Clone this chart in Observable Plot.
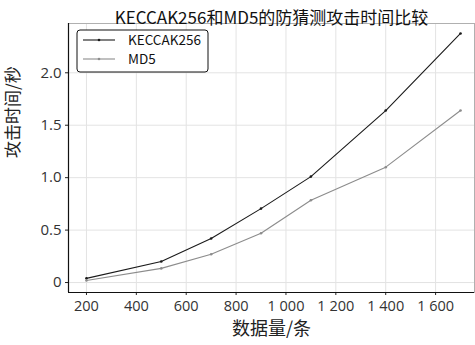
<!DOCTYPE html>
<html><head><meta charset="utf-8">
<script src="https://cdn.jsdelivr.net/npm/d3@7"></script>
<script src="https://cdn.jsdelivr.net/npm/@observablehq/plot@0.6"></script>
<style>body{margin:0;background:#fff;} svg{display:block;}</style>
</head><body><div id="chart"></div>
<script>
const dataCounts = [200, 500, 700, 900, 1100, 1400, 1700];
const keccakTimes = [0.04, 0.20, 0.42, 0.705, 1.01, 1.64, 2.375];
const md5Times = [0.02, 0.135, 0.27, 0.47, 0.785, 1.10, 1.64];
const seriesNames = ["KECCAK256", "MD5"];
const seriesColors = ["#1a1a1a", "#8c8c8c"];
const xTicks = [200, 400, 600, 800, 1000, 1200, 1400, 1600];
const yTicks = [0, 0.5, 1.0, 1.5, 2.0];
const titleText = "KECCAK256和MD5的防猜测攻击时间比较";
const xLabel = "数据量/条";
const yLabel = "攻击时间/秒";

const rows = [];
dataCounts.forEach((c, i) => {
  rows.push({series: seriesNames[0], x: c, y: keccakTimes[i]});
  rows.push({series: seriesNames[1], x: c, y: md5Times[i]});
});

const font = "'Noto Sans CJK SC', 'Open Sans', sans-serif";
const tickFont = "'Open Sans', 'DejaVu Sans', sans-serif";

const plot = Plot.plot({
  width: 475, height: 345,
  marginLeft: 68, marginRight: 1, marginTop: 23, marginBottom: 53,
  style: {fontFamily: font, background: "#fff"},
  x: {domain: [128, 1756]},
  y: {domain: [-0.095, 2.47]},
  color: {domain: seriesNames, range: seriesColors},
  marks: [
    Plot.gridX(xTicks, {stroke: "#e3e3e3", strokeOpacity: 1}),
    Plot.gridY(yTicks, {stroke: "#e3e3e3", strokeOpacity: 1}),
    Plot.frame({stroke: "#b0b0b0"}),
    Plot.axisX(xTicks, {tickSize: 3, tickPadding: 5, stroke: "#222", fill: "#333", fontSize: 14.5, fontFamily: tickFont,
      tickFormat: d => d >= 1000 ? d3.format(",")(d).replace(",", " ") : String(d),
      label: null}),
    Plot.axisY(yTicks, {tickSize: 3, tickPadding: 4, stroke: "#222", fill: "#333", fontSize: 15, fontFamily: tickFont,
      tickFormat: d => d === 0 ? "0" : d.toFixed(1), label: null}),
    Plot.ruleX([128], {stroke: "#111", strokeWidth: 1.2}),
    Plot.ruleY([-0.095], {stroke: "#111", strokeWidth: 1.2}),
    Plot.line(rows, {x: "x", y: "y", z: "series", stroke: "series", strokeWidth: 1.1}),
    Plot.dot(rows, {x: "x", y: "y", fill: "series", r: 1.3}),
    Plot.text([titleText], {frameAnchor: "top", dy: -12, fontSize: 17, fill: "#111", fontFamily: font}),
    Plot.text([xLabel], {frameAnchor: "bottom", dy: 42, fontSize: 18, fill: "#222", fontFamily: font}),
    Plot.text([yLabel], {frameAnchor: "left", dx: -55, rotate: -90, fontSize: 17, fill: "#222", fontFamily: font})
  ]
});

// legend inside the plot, drawn as SVG elements attached to the plot
const svg = d3.select(plot);
const lg = svg.append("g").attr("transform", "translate(77,30)");
lg.append("rect").attr("x", 0).attr("y", 0).attr("width", 131).attr("height", 42)
  .attr("rx", 3).attr("fill", "#fff").attr("stroke", "#111").attr("stroke-width", 1);
seriesNames.forEach((name, i) => {
  const y = 10 + i * 19;
  lg.append("line").attr("x1", 6).attr("x2", 38).attr("y1", y).attr("y2", y)
    .attr("stroke", seriesColors[i]).attr("stroke-width", 1.1);
  lg.append("circle").attr("cx", 22).attr("cy", y).attr("r", 1.3).attr("fill", seriesColors[i]);
  lg.append("text").attr("x", 51).attr("y", y).attr("dy", "0.35em").attr("font-size", 13.5)
    .attr("text-anchor", "start")
    .attr("font-family", font).attr("fill", "#111").text(name);
});

document.getElementById("chart").appendChild(plot);
</script>
</body></html>
